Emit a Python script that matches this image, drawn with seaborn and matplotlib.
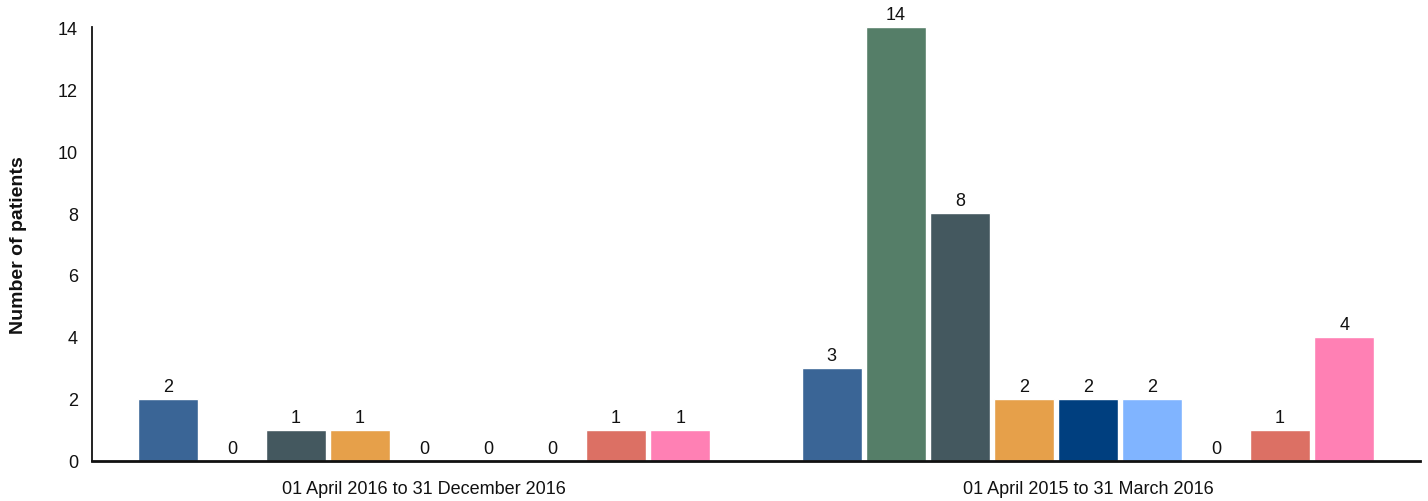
import matplotlib
matplotlib.use("Agg")
import matplotlib.pyplot as plt
import seaborn as sns
import pandas as pd

# Reporting periods (x categories)
periods = ["01 April 2016 to 31 December 2016", "01 April 2015 to 31 March 2016"]

# Patient groups (hue levels) and their colours
groups = ["Group 1", "Group 2", "Group 3", "Group 4", "Group 5",
          "Group 6", "Group 7", "Group 8", "Group 9"]
colors = ["#3a6596", "#557e68", "#44585f", "#e6a04a", "#003f7f",
          "#80b4ff", "#9e9e9e", "#dc7064", "#ff80b4"]

# Number of patients per group, one list per period
counts_2016 = [2, 0, 1, 1, 0, 0, 0, 1, 1]
counts_2015 = [3, 14, 8, 2, 2, 2, 0, 1, 4]

df = pd.DataFrame({
    "period": [periods[0]] * len(groups) + [periods[1]] * len(groups),
    "group": groups * 2,
    "patients": counts_2016 + counts_2015,
})

sns.set_style("white")
plt.rcParams["font.family"] = ["Liberation Sans", "DejaVu Sans"]

fig = plt.figure(figsize=(14.28, 5.02), dpi=100)
ax = fig.add_axes([0.0644, 0.0797, 0.9300, 0.8645])

sns.barplot(data=df, x="period", y="patients", hue="group", order=periods,
            hue_order=groups, palette=colors, width=0.868, gap=0.06,
            saturation=1, legend=False, ax=ax)

for cont in ax.containers:
    ax.bar_label(cont, fmt="%d", padding=3, fontsize=13, color="#111111")

ax.set_ylim(0, 14)
ax.set_xlim(-0.5, 1.5)
ax.set_yticks(range(0, 15, 2))
ax.tick_params(axis="both", length=0, labelsize=13, colors="#111111")
ax.tick_params(axis="y", pad=10)
ax.tick_params(axis="x", pad=14)
ax.set_xlabel("")
ax.set_ylabel("Number of patients", fontsize=14, fontweight="bold",
              labelpad=22, color="#111111")

for side in ["top", "right"]:
    ax.spines[side].set_visible(False)
ax.spines["left"].set_linewidth(1.3)
ax.spines["left"].set_color("#111111")
ax.spines["bottom"].set_linewidth(2)
ax.spines["bottom"].set_color("#111111")

fig.savefig("out.png", dpi=100)
